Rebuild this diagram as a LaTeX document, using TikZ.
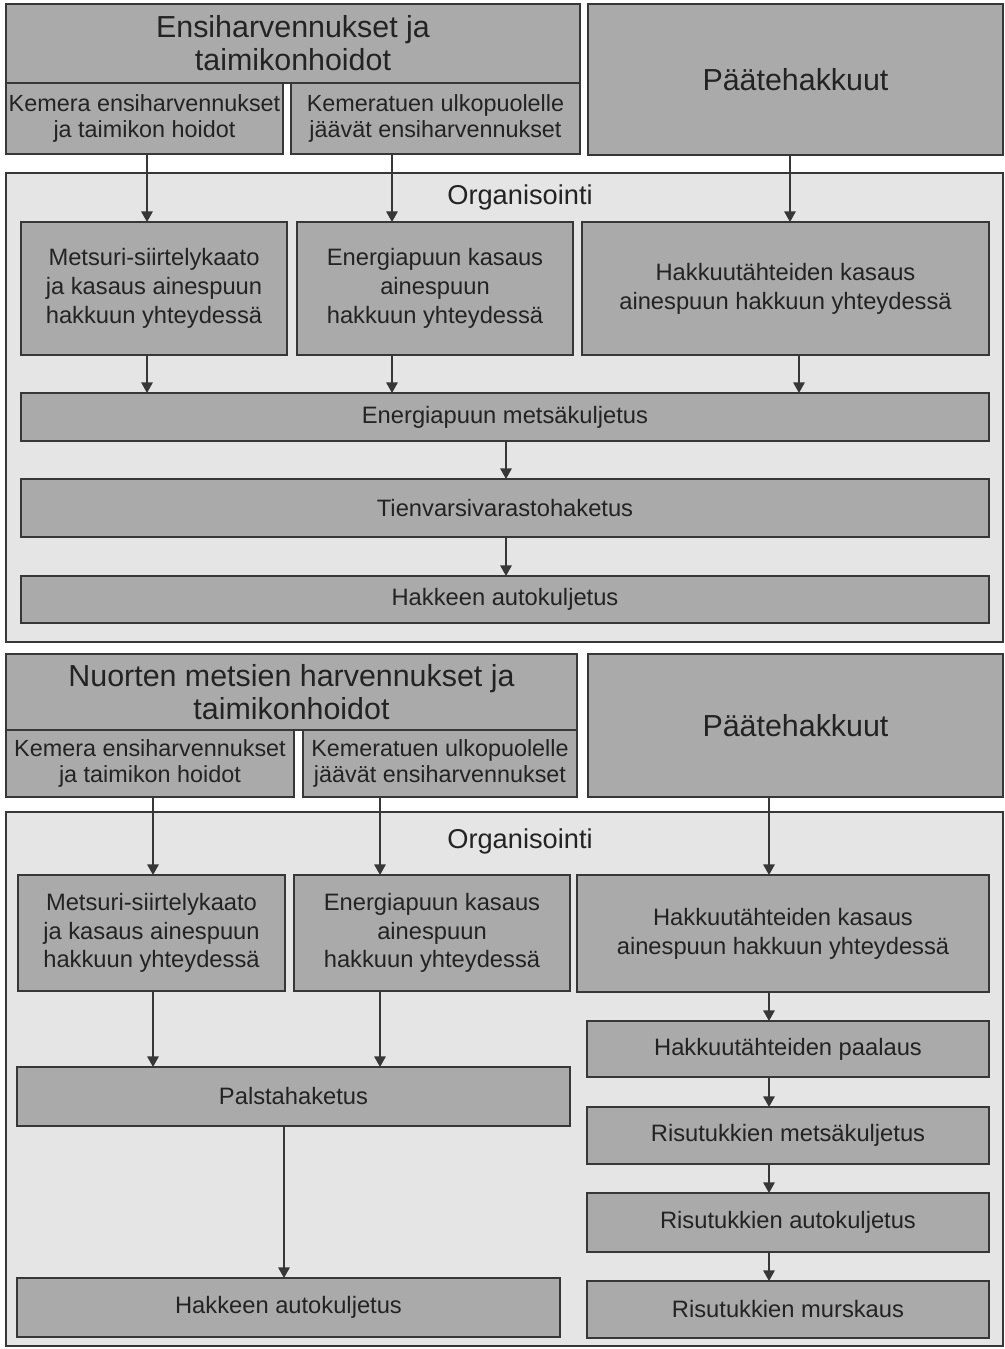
\documentclass[tikz,border=0pt]{standalone}
\usepackage{fontspec}
\setmainfont{Liberation Sans}
\usepackage{tikz}
\usetikzlibrary{arrows.meta, positioning}
\definecolor{boxgray}{RGB}{170,170,170}
\definecolor{framegray}{RGB}{229,229,229}
\definecolor{linegray}{RGB}{55,55,55}
\definecolor{textgray}{RGB}{35,35,35}
\tikzset{
  box/.style={draw=linegray, fill=boxgray, line width=0.8pt, inner sep=0pt, outer sep=0pt,
    align=center, text=textgray, font=\fontsize{13.5}{16.4}\selectfont},
  titlebox/.style={box, font=\fontsize{17.3}{18.7}\selectfont},
  subbox/.style={box, font=\fontsize{13.3}{14.7}\selectfont},
  frame/.style={draw=linegray, fill=framegray, line width=0.8pt, inner sep=0pt, outer sep=0pt},
  orglabel/.style={text=textgray, font=\fontsize{15.5}{18}\selectfont},
  flow/.style={draw=linegray, line width=0.8pt, -{Triangle[length=6pt,width=6.5pt]}}
}
% style, name, x1, y1, x2, y2, text
\newcommand{\pbox}[7]{\node[#1, minimum width={(#5-#3)*0.2mm}, minimum height={(#6-#4)*0.2mm}] (#2) at ({(#3+#5)/2},{(#4+#6)/2}) {#7};}

\begin{document}
\begin{tikzpicture}[x=0.2mm, y=-0.2mm]
\useasboundingbox[fill=white] (0,0) rectangle (1005,1349);

% upper chart
\pbox{frame}{org1}{6}{173}{1003}{642}{}
\node[orglabel] (orgt1) at (520,197) {Organisointi};
\pbox{titlebox}{ens1}{6}{4}{580}{83}{Ensiharvennukset ja\\taimikonhoidot}
\pbox{subbox}{kem1}{6}{83}{283}{154}{Kemera ensiharvennukset\\ja taimikon hoidot}
\pbox{subbox}{kemt1}{291}{83}{580}{154}{Kemeratuen ulkopuolelle\\jäävät ensiharvennukset}
\pbox{titlebox}{paa1}{588}{4}{1003}{155}{Päätehakkuut}
\pbox{box}{mets1}{21}{222}{287}{355}{Metsuri-siirtelykaato\\ja kasaus ainespuun\\hakkuun yhteydessä}
\pbox{box}{ener1}{297}{222}{573}{355}{Energiapuun kasaus\\ainespuun\\hakkuun yhteydessä}
\pbox{box}{hakt1}{582}{222}{989}{355}{Hakkuutähteiden kasaus\\ainespuun hakkuun yhteydessä}
\pbox{box}{metk1}{21}{393}{989}{441}{Energiapuun metsäkuljetus}
\pbox{box}{tien1}{21}{479}{989}{537}{Tienvarsivarastohaketus}
\pbox{box}{hak1}{21}{576}{989}{623}{Hakkeen autokuljetus}

\coordinate (c1) at (147,0);
\coordinate (c2) at (392,0);
\coordinate (c3) at (790,0);
\coordinate (c4) at (799,0);
\coordinate (c5) at (506,0);
\draw[flow] (kem1.south -| c1) -- (mets1.north -| c1);
\draw[flow] (kemt1.south -| c2) -- (ener1.north -| c2);
\draw[flow] (paa1.south -| c3) -- (hakt1.north -| c3);
\draw[flow] (mets1.south -| c1) -- (metk1.north -| c1);
\draw[flow] (ener1.south -| c2) -- (metk1.north -| c2);
\draw[flow] (hakt1.south -| c4) -- (metk1.north -| c4);
\draw[flow] (metk1.south -| c5) -- (tien1.north -| c5);
\draw[flow] (tien1.south -| c5) -- (hak1.north -| c5);

% lower chart
\pbox{frame}{org2}{6}{812}{1003}{1346}{}
\node[orglabel] (orgt2) at (520,841) {Organisointi};
\pbox{titlebox}{nuo2}{6}{654}{577}{730}{Nuorten metsien harvennukset ja\\taimikonhoidot}
\pbox{subbox}{kem2}{6}{730}{294}{797}{Kemera ensiharvennukset\\ja taimikon hoidot}
\pbox{subbox}{kemt2}{303}{730}{577}{797}{Kemeratuen ulkopuolelle\\jäävät ensiharvennukset}
\pbox{titlebox}{paa2}{588}{654}{1003}{797}{Päätehakkuut}
\pbox{box}{mets2}{18}{875}{285}{991}{Metsuri-siirtelykaato\\ja kasaus ainespuun\\hakkuun yhteydessä}
\pbox{box}{ener2}{294}{875}{570}{991}{Energiapuun kasaus\\ainespuun\\hakkuun yhteydessä}
\pbox{box}{hakt2}{577}{875}{989}{992}{Hakkuutähteiden kasaus\\ainespuun hakkuun yhteydessä}
\pbox{box}{pals2}{17}{1067}{570}{1126}{Palstahaketus}
\pbox{box}{hak2}{17}{1278}{560}{1337}{Hakkeen autokuljetus}
\pbox{box}{paal2}{587}{1021}{989}{1077}{Hakkuutähteiden paalaus}
\pbox{box}{rmk2}{587}{1107}{989}{1164}{Risutukkien metsäkuljetus}
\pbox{box}{rak2}{587}{1193}{989}{1252}{Risutukkien autokuljetus}
\pbox{box}{rmu2}{587}{1281}{989}{1338}{Risutukkien murskaus}

\coordinate (d1) at (153,0);
\coordinate (d2) at (380,0);
\coordinate (d3) at (769,0);
\coordinate (d4) at (284,0);
\draw[flow] (kem2.south -| d1) -- (mets2.north -| d1);
\draw[flow] (kemt2.south -| d2) -- (ener2.north -| d2);
\draw[flow] (paa2.south -| d3) -- (hakt2.north -| d3);
\draw[flow] (mets2.south -| d1) -- (pals2.north -| d1);
\draw[flow] (ener2.south -| d2) -- (pals2.north -| d2);
\draw[flow] (pals2.south -| d4) -- (hak2.north -| d4);
\draw[flow] (hakt2.south -| d3) -- (paal2.north -| d3);
\draw[flow] (paal2.south -| d3) -- (rmk2.north -| d3);
\draw[flow] (rmk2.south -| d3) -- (rak2.north -| d3);
\draw[flow] (rak2.south -| d3) -- (rmu2.north -| d3);
\end{tikzpicture}
\end{document}
